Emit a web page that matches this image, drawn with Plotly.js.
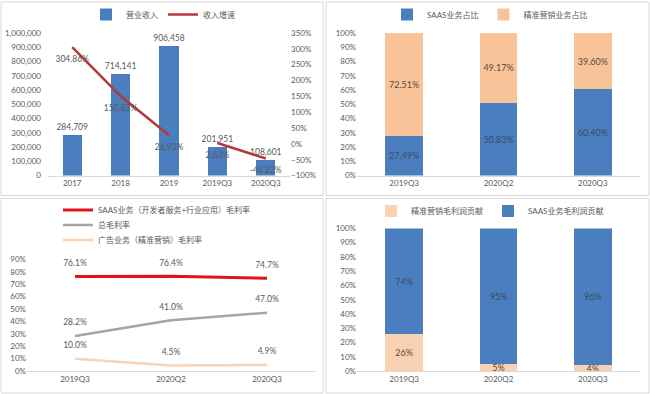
<!DOCTYPE html>
<html>
<head>
<meta charset="utf-8">
<script src="https://cdn.plot.ly/plotly-3.0.1.min.js"></script>
<style>html,body{margin:0;padding:0;background:#fff;}#chart{width:650px;height:394px;}</style>
</head>
<body>
<div id="chart"></div>
<script>
// Panel 1: revenue and growth
const p1Categories = ['2017', '2018', '2019', '2019Q3', '2020Q3'];
const p1Revenue = [284709, 714141, 906458, 201951, 108601];
const p1Growth = [3.0486, 1.5083, 0.2693, 0.0263, -0.4622];
const p1GrowthLabels = ['304.86%', '150.83%', '26.93%', '2.63%', '-46.22%'];

// Panel 2: revenue share
const p2Categories = ['2019Q3', '2020Q2', '2020Q3'];
const p2Saas = [0.2749, 0.5083, 0.6040];
const p2Marketing = [0.7251, 0.4917, 0.3960];

// Panel 3: gross margins
const p3Categories = ['2019Q3', '2020Q2', '2020Q3'];
const p3SaasMargin = [0.761, 0.764, 0.747];
const p3TotalMargin = [0.282, 0.410, 0.470];
const p3AdMargin = [0.100, 0.045, 0.049];

// Panel 4: gross profit contribution
const p4Categories = ['2019Q3', '2020Q2', '2020Q3'];
const p4Marketing = [0.26, 0.05, 0.04];
const p4Saas = [0.74, 0.95, 0.96];

const W = 650, H = 394;
const px = v => v / W;
const py = v => 1 - v / H;
const FONT = 'Lato, "Noto Sans CJK SC", sans-serif';
const GREY = '#595959';
const BLUE = '#4A7EBF';

const pct1 = a => a.map(v => (v * 100).toFixed(2) + '%');
const pct0 = a => a.map(v => Math.round(v * 100) + '%');
const pctm = a => a.map(v => (v * 100).toFixed(1) + '%');

const hiddenMarker = {size: 12, color: 'rgba(0,0,0,0)'};
const LBL = {size: 8.5, color: GREY};

const traces = [
  {type: 'bar', x: p1Categories, y: p1Revenue, name: '营业收入', xaxis: 'x', yaxis: 'y',
   marker: {color: BLUE}, text: p1Revenue.map(v => v.toLocaleString('en-US')),
   textposition: 'outside', constraintext: 'none', textfont: LBL, cliponaxis: false, legend: 'legend'},
  {type: 'scatter', mode: 'lines+markers+text', x: p1Categories.slice(0, 3), y: p1Growth.slice(0, 3), name: '收入增速',
   xaxis: 'x', yaxis: 'y5', line: {color: '#B8373A', width: 2.5}, marker: hiddenMarker, text: p1GrowthLabels.slice(0, 3),
   textposition: 'bottom center', textfont: LBL, cliponaxis: false, legend: 'legend'},
  {type: 'scatter', mode: 'lines+markers+text', x: p1Categories.slice(3), y: p1Growth.slice(3), name: '收入增速',
   xaxis: 'x', yaxis: 'y5', line: {color: '#B8373A', width: 2.5}, marker: hiddenMarker, text: p1GrowthLabels.slice(3),
   textposition: 'bottom center', textfont: LBL, cliponaxis: false, showlegend: false},

  {type: 'bar', x: p2Categories, y: p2Saas, name: 'SAAS业务占比', xaxis: 'x2', yaxis: 'y2',
   marker: {color: BLUE}, text: pct1(p2Saas), textposition: 'inside', insidetextanchor: 'middle',
   textfont: {size: 9, color: '#3a4a60'}, legend: 'legend2'},
  {type: 'bar', x: p2Categories, y: p2Marketing, name: '精准营销业务占比', xaxis: 'x2', yaxis: 'y2',
   marker: {color: '#F8C398'}, text: pct1(p2Marketing), textposition: 'inside', insidetextanchor: 'middle',
   textfont: {size: 9, color: '#5a4a3a'}, legend: 'legend2'},

  {type: 'scatter', mode: 'lines+markers+text', x: p3Categories, y: p3SaasMargin, name: 'SAAS业务（开发者服务+行业应用）毛利率',
   xaxis: 'x3', yaxis: 'y3', line: {color: '#E3121A', width: 3}, marker: hiddenMarker, text: pctm(p3SaasMargin),
   textposition: 'top center', textfont: LBL, cliponaxis: false, legend: 'legend3'},
  {type: 'scatter', mode: 'lines+markers+text', x: p3Categories, y: p3TotalMargin, name: '总毛利率',
   xaxis: 'x3', yaxis: 'y3', line: {color: '#A5A5A5', width: 2.5}, marker: hiddenMarker, text: pctm(p3TotalMargin),
   textposition: 'top center', textfont: LBL, cliponaxis: false, legend: 'legend5'},
  {type: 'scatter', mode: 'lines+markers+text', x: p3Categories, y: p3AdMargin, name: '广告业务（精准营销）毛利率',
   xaxis: 'x3', yaxis: 'y3', line: {color: '#FAD3B6', width: 2.5}, marker: hiddenMarker, text: pctm(p3AdMargin),
   textposition: 'top center', textfont: LBL, cliponaxis: false, legend: 'legend6'},

  {type: 'bar', x: p4Categories, y: p4Marketing, name: '精准营销毛利润贡献', xaxis: 'x4', yaxis: 'y4',
   marker: {color: '#F9D1B3'}, text: pct0(p4Marketing), textposition: 'inside', insidetextanchor: 'middle',
   constraintext: 'none', textfont: {size: 9, color: '#5a4a3a'}, legend: 'legend4'},
  {type: 'bar', x: p4Categories, y: p4Saas, name: 'SAAS业务毛利润贡献', xaxis: 'x4', yaxis: 'y4',
   marker: {color: BLUE}, text: pct0(p4Saas), textposition: 'inside', insidetextanchor: 'middle',
   textfont: {size: 9, color: '#3a4a60'}, legend: 'legend4'}
];

const xBase = {type: 'category', showline: true, linecolor: '#D9D9D9', linewidth: 1, ticks: '',
  tickfont: {size: 8, color: GREY}, showgrid: false, zeroline: false, fixedrange: true};
const yBase = {showgrid: false, zeroline: false, showline: false, ticks: '',
  tickfont: {size: 8, color: GREY}, fixedrange: true};

const legendBase = {orientation: 'h', font: {size: 8, color: GREY, family: FONT},
  bgcolor: 'rgba(0,0,0,0)', itemwidth: 30, yanchor: 'middle', traceorder: 'normal'};

const border = (x0, y0, x1, y1) => ({type: 'rect', xref: 'paper', yref: 'paper',
  x0: px(x0), x1: px(x1), y0: py(y0), y1: py(y1), line: {color: '#D9D9D9', width: 1}});

const layout = {
  width: W, height: H, margin: {l: 0, r: 0, t: 0, b: 0},
  paper_bgcolor: '#fff', plot_bgcolor: 'rgba(0,0,0,0)',
  font: {family: FONT, color: GREY, size: 9},
  barmode: 'stack', bargap: 0.6,
  xaxis: Object.assign({}, xBase, {domain: [px(48), px(290)], anchor: 'y', range: [-0.5, 4.5]}),
  yaxis: Object.assign({}, yBase, {domain: [py(175), py(32)], range: [0, 1000000], dtick: 100000,
    tickformat: ',d', anchor: 'x', ticklabelstandoff: 6}),
  yaxis5: Object.assign({}, yBase, {overlaying: 'y', side: 'right', anchor: 'x', range: [-1, 3.5],
    dtick: 0.5, tickformat: '.0%'}),
  xaxis2: Object.assign({}, xBase, {domain: [px(357), px(640)], anchor: 'y2', range: [-0.5, 2.5]}),
  yaxis2: Object.assign({}, yBase, {domain: [py(175), py(32)], range: [0, 1], dtick: 0.1,
    tickformat: '.0%', anchor: 'x2'}),
  xaxis3: Object.assign({}, xBase, {domain: [px(27), px(315)], anchor: 'y3', range: [-0.5, 2.5]}),
  yaxis3: Object.assign({}, yBase, {domain: [py(371), py(259)], range: [0, 0.9], dtick: 0.1,
    tickformat: '.0%', anchor: 'x3'}),
  xaxis4: Object.assign({}, xBase, {domain: [px(357), px(640)], anchor: 'y4', range: [-0.5, 2.5]}),
  yaxis4: Object.assign({}, yBase, {domain: [py(371), py(228)], range: [0, 1], dtick: 0.1,
    tickformat: '.0%', anchor: 'x4'}),
  legend: Object.assign({}, legendBase, {x: px(163), xanchor: 'center', y: py(14)}),
  legend2: Object.assign({}, legendBase, {x: px(490), xanchor: 'center', y: py(14)}),
  legend3: Object.assign({}, legendBase, {x: px(58), xanchor: 'left', y: py(210)}),
  legend5: Object.assign({}, legendBase, {x: px(58), xanchor: 'left', y: py(225)}),
  legend6: Object.assign({}, legendBase, {x: px(58), xanchor: 'left', y: py(240)}),
  legend4: Object.assign({}, legendBase, {x: px(490), xanchor: 'center', y: py(211)}),
  shapes: [border(1, 1, 323, 195), border(326, 1, 649, 195), border(1, 198, 323, 393), border(326, 198, 649, 393)]
};

Plotly.newPlot('chart', traces, layout, {staticPlot: true, displayModeBar: false});
</script>
</body>
</html>
